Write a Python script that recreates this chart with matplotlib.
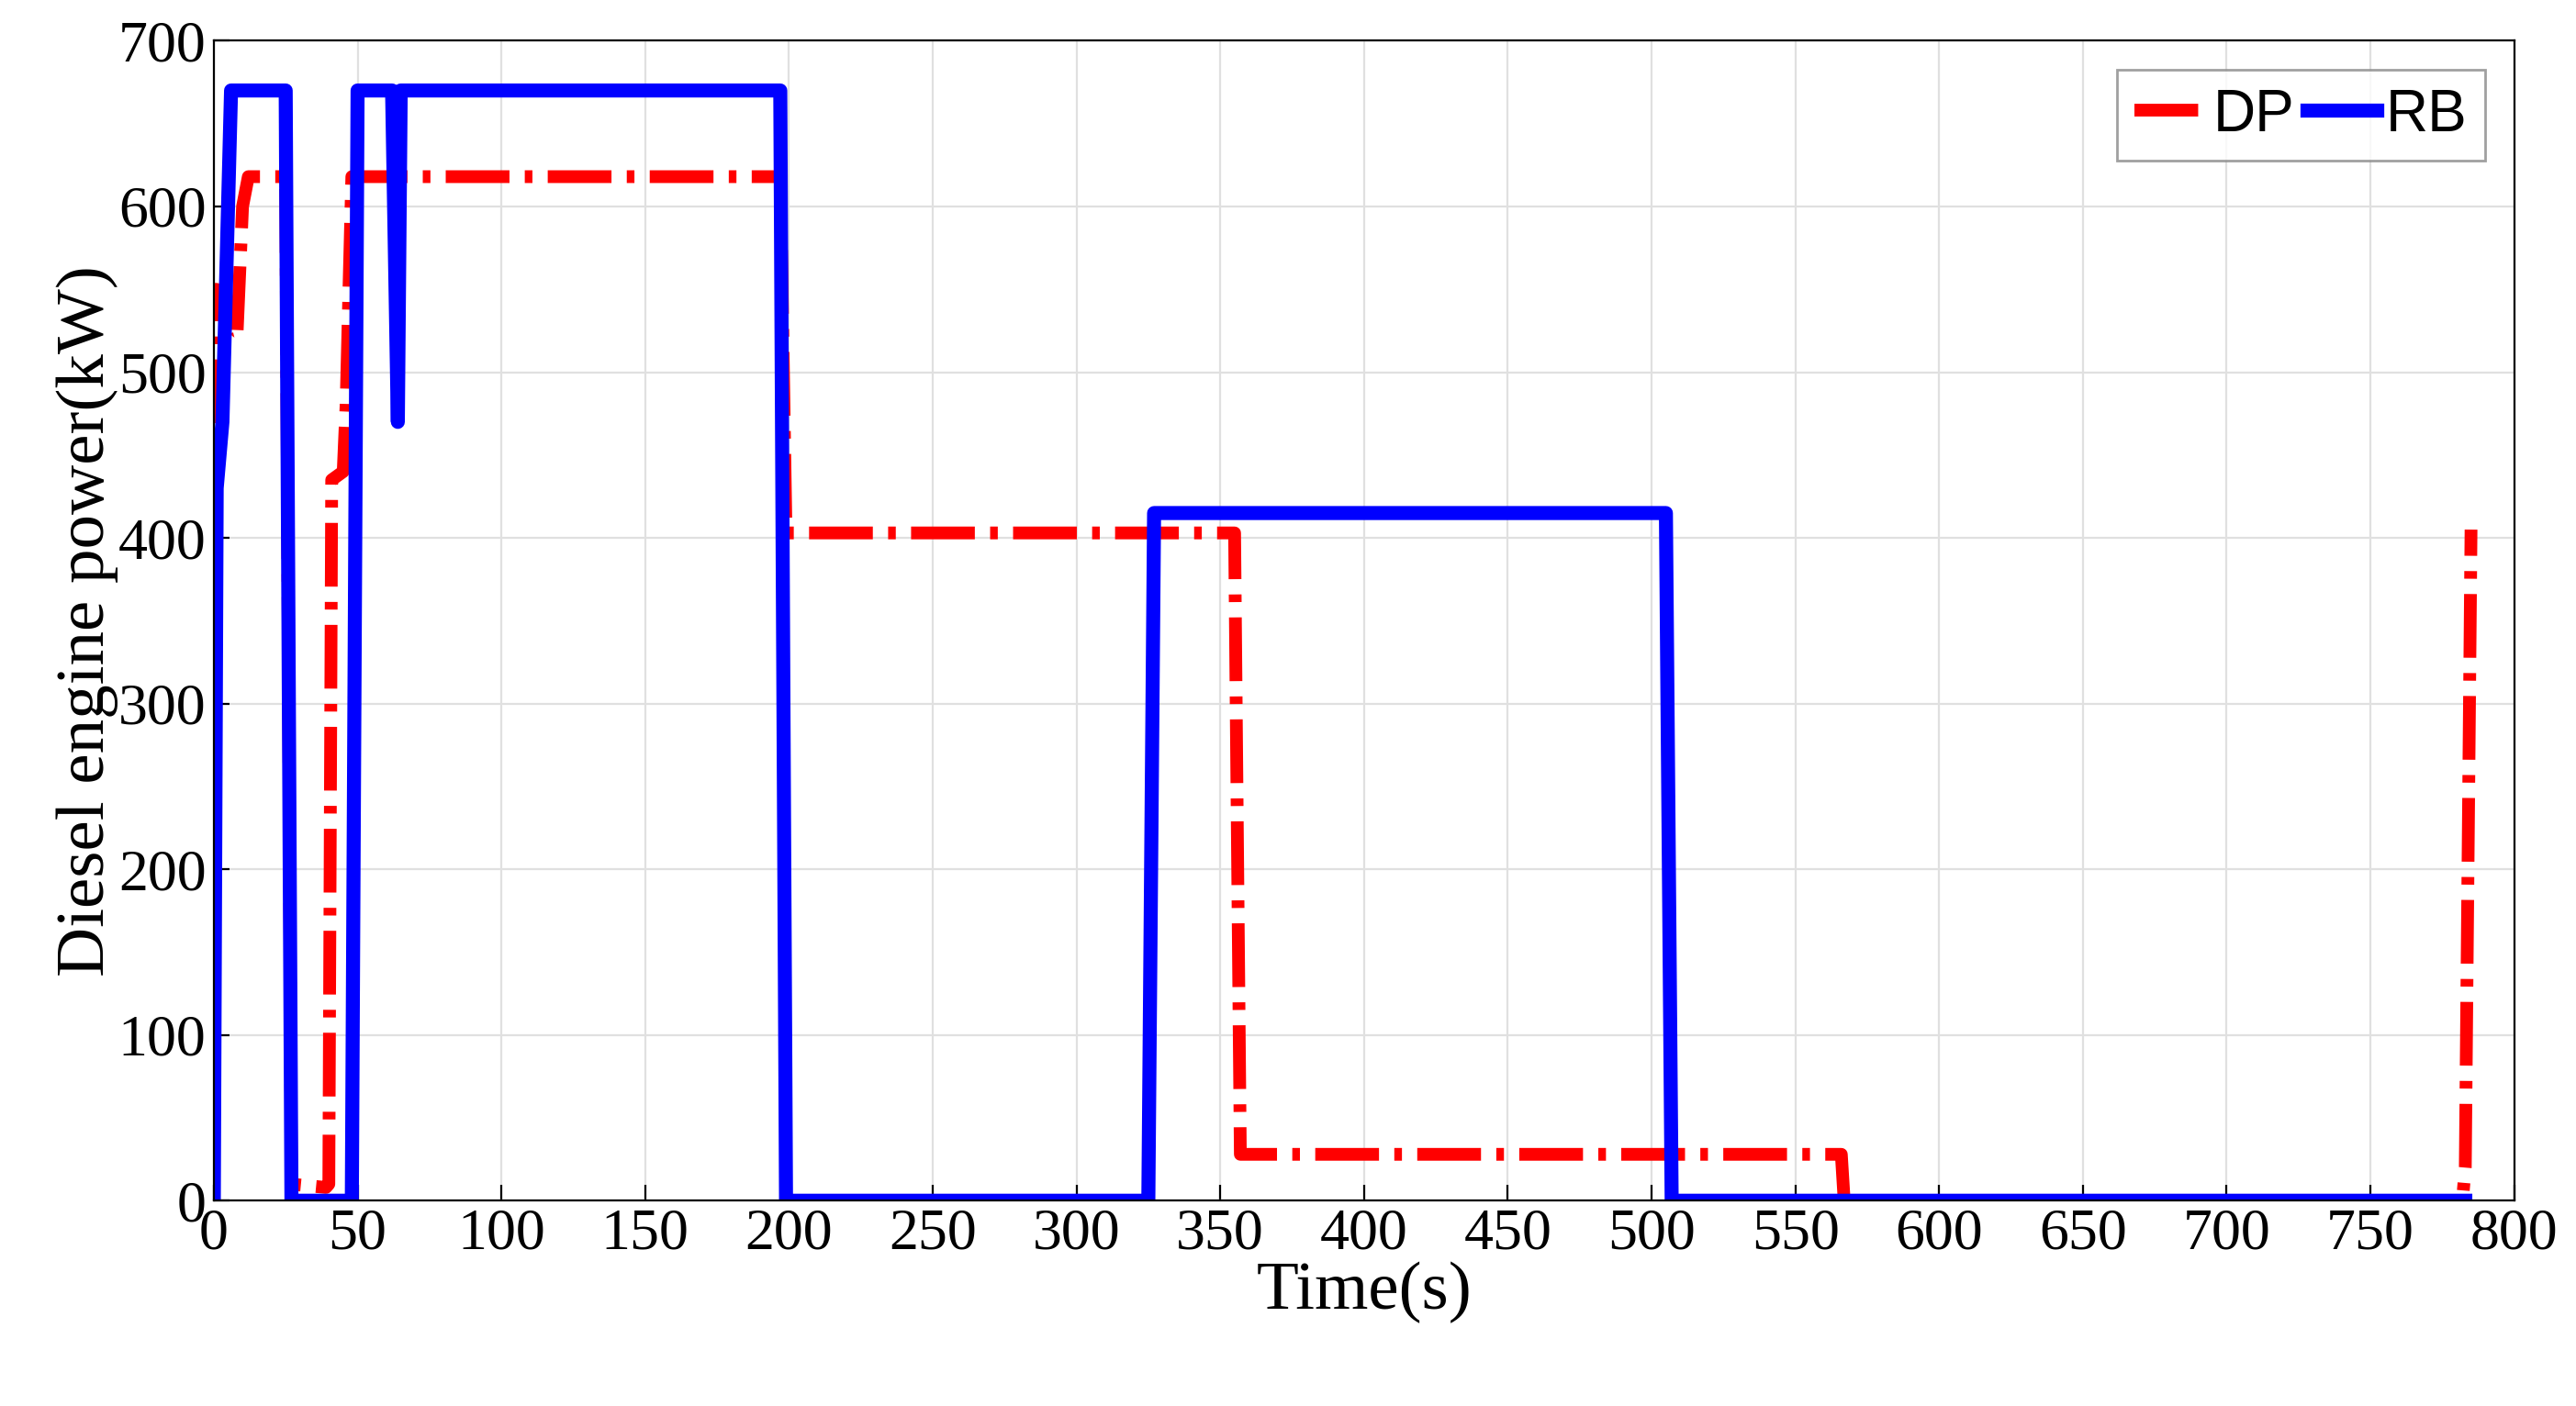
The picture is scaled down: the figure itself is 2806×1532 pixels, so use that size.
import numpy as np
import matplotlib.pyplot as plt

# RB (rule-based) engine power
rb_t = [0, 1, 3, 6, 25, 27, 48, 50, 62, 64, 65, 197, 199, 325, 327, 505, 507, 783]
rb_p = [0, 430, 470, 670, 670, 0, 0, 670, 670, 470, 670, 670, 0, 0, 415, 415, 0, 0]

# DP engine power
dp_t = [0, 0.5, 1, 5, 8, 10, 12, 25, 27, 39, 40, 41, 45, 46, 47, 48, 197, 199, 355, 357, 566, 567, 782, 783, 785]
dp_p = [100, 550, 550, 520, 520, 600, 618, 618, 10, 8, 10, 435, 440, 480, 550, 618, 618, 403, 403, 28, 28, 0, 0, 20, 405]

plt.rcParams['font.family'] = ['Liberation Serif', 'DejaVu Serif']

fig = plt.figure(figsize=(14.03, 7.66), dpi=200)
ax = fig.add_axes([0.083, 0.146, 0.893, 0.825])

ax.plot(dp_t, dp_p, color='red', lw=5, linestyle=(0, (5, 1.2, 0.6, 1.2)), label='DP')
ax.plot(rb_t, rb_p, color='blue', lw=5.5, solid_joinstyle='round', label='RB')

ax.set_xlim(0, 800)
ax.set_ylim(0, 700)
ax.set_xticks(np.arange(0, 801, 50))
ax.set_yticks(np.arange(0, 701, 100))
ax.grid(True, color='#e0e0e0', lw=0.8)
ax.tick_params(labelsize=23, direction='in', length=6, pad=3)
ax.set_xlabel('Time(s)', fontsize=27, labelpad=0)
ax.set_ylabel('Diesel engine power(kW)', fontsize=27, labelpad=0)

leg = ax.legend(loc='upper right', ncol=2, prop={'family': 'Liberation Sans', 'size': 23},
                handlelength=1.2, columnspacing=0.2, handletextpad=0.15,
                fancybox=False, edgecolor='#888888', borderpad=0.3)
leg.get_frame().set_linewidth(1)

fig.savefig('out.png', dpi=200)
